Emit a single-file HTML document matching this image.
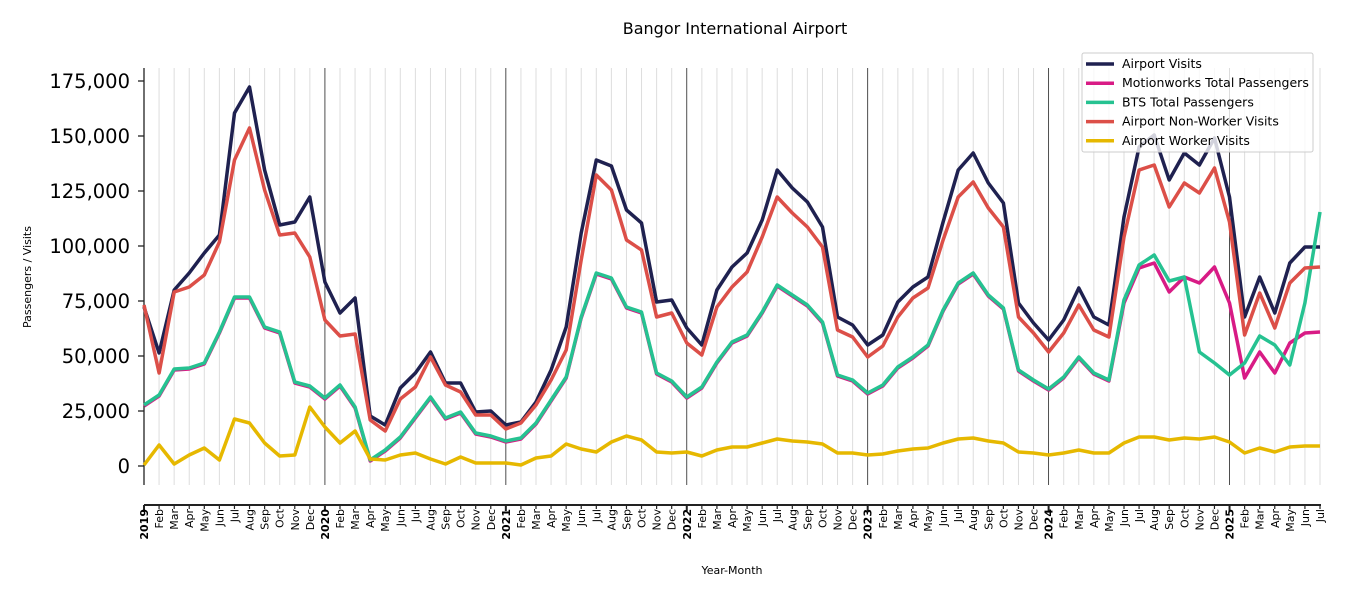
<!DOCTYPE html>
<html><head><meta charset="utf-8"><style>
html,body{margin:0;padding:0;background:#fff;}
svg{display:block;font-family:"DejaVu Sans","Liberation Sans",sans-serif;}
</style></head><body>
<svg id="s" width="1350" height="600" xmlns="http://www.w3.org/2000/svg">
<text x="735" y="34" font-size="16" text-anchor="middle">Bangor International Airport</text>
<text transform="translate(31,277) rotate(-90)" font-size="11" text-anchor="middle">Passengers / Visits</text>
<text x="732" y="574" font-size="11" text-anchor="middle">Year-Month</text>
<g id="grid"></g>
<g id="axes" stroke="#222" stroke-width="1.3" fill="none"></g>
<g id="lab"></g>
<g id="lines" fill="none" stroke-width="3.5" stroke-linejoin="round"></g>
<g id="leg"></g>
</svg>
<script>
var NS="http://www.w3.org/2000/svg";
function el(p,t,a,txt){var e=document.createElementNS(NS,t);for(var k in a)e.setAttribute(k,a[k]);if(txt!=null)e.textContent=txt;document.getElementById(p).appendChild(e);return e;}
var X0=144,DX=(1320-144)/78;
function X(i){return X0+i*DX;}
for(var i=0;i<79;i++){
  var yr=i%12==0;
  el('grid','line',{x1:X(i),x2:X(i),y1:68,y2:485,stroke:yr?'#222':'#ddd','stroke-width':yr?0.8:1});
}
el('axes','line',{x1:144,x2:144,y1:68,y2:485});
el('axes','line',{x1:144,x2:1321,y1:505,y2:505,'stroke-width':2});
var ticks=[0,25000,50000,75000,100000,125000,150000,175000];
ticks.forEach(function(v){var y=466-v/454.545;
 el('axes','line',{x1:138,x2:144,y1:y,y2:y});
 el('lab','text',{x:130,y:y+7,'font-size':19.5,'text-anchor':'end'},v.toLocaleString('en-US'));});
var M=['Jan','Feb','Mar','Apr','May','Jun','Jul','Aug','Sep','Oct','Nov','Dec'];
for(var i=0;i<79;i++){
  var yr=i%12==0;
  el('axes','line',{x1:X(i),x2:X(i),y1:505,y2:yr?511:509,'stroke-width':yr?2:1.2});
  var t=yr?String(2019+i/12):M[i%12];
  el('lab','text',{transform:'translate('+(X(i)+4)+',509) rotate(-90)','font-size':11,'text-anchor':'end','font-weight':yr?'bold':'normal'},t);
}
var nav=[307,353,290,273,253,235,113,87,170,225,222,197,282,313,298,416,425,388,373,352,383,383,412,411,425,422,402,370,327,233,160,166,210,223,302,300,328,345,290,267,253,220,170,188,202,227,317,325,345,335,302,287,277,222,170,153,183,203,303,323,340,320,288,317,325,217,147,135,180,153,165,138,197,317,277,313,263,247,247];
var red=[305,373,292,287,275,242,160,128,190,235,233,257,320,336,334,420,431,399,387,357,385,392,415,415,429,423,405,380,350,260,175,190,240,250,317,313,343,355,307,287,272,237,197,213,227,247,330,337,357,346,317,298,288,240,197,182,208,227,317,333,352,333,305,330,337,237,170,165,207,183,193,168,222,335,293,328,283,268,267];
var grn=[405,395,369,368,363,332,297,297,327,332,382,386,398,385,407,460,450,437,417,397,418,412,433,436,441,438,423,400,377,317,273,278,307,312,373,381,397,387,362,342,335,312,285,295,305,322,375,380,393,385,367,357,345,310,283,273,295,308,370,380,389,377,357,373,380,300,265,255,281,277,352,363,375,363,336,345,365,303,212];
var pnk=grn.map(function(v){return v+1;});
var pe={65:303,66:268,67:263,68:292,69:277,70:283,71:267,72:303,73:378,74:352,75:373,76:343,77:333,78:332};
for(var k in pe)pnk[k]=pe[k];
var yel=[465,445,464,455,448,460,419,423,443,456,455,407,427,443,431,459,460,455,453,459,464,457,463,463,463,465,458,456,444,449,452,442,436,440,452,453,452,456,450,447,447,443,439,441,442,444,453,453,455,454,451,449,448,443,439,438,441,443,452,453,455,453,450,453,453,443,437,437,440,438,439,437,442,453,448,452,447,446,446];
function pl(a,c){el('lines','polyline',{points:a.map(function(y,i){return X(i).toFixed(1)+','+y;}).join(' '),stroke:c});}
pl(nav,'#1f2150');pl(pnk,'#d81b85');pl(grn,'#26c291');pl(red,'#dc4f48');pl(yel,'#e6b800');
el('leg','rect',{x:1082,y:53,width:231,height:99,rx:2,fill:'#fff','fill-opacity':0.8,stroke:'#ccc'});
var L=[['Airport Visits','#1f2150'],['Motionworks Total Passengers','#d81b85'],['BTS Total Passengers','#26c291'],['Airport Non-Worker Visits','#dc4f48'],['Airport Worker Visits','#e6b800']];
L.forEach(function(l,i){var y=64+i*19.2;
 el('leg','line',{x1:1086,x2:1114,y1:y,y2:y,stroke:l[1],'stroke-width':3.5});
 el('leg','text',{x:1122,y:y+4,'font-size':12.5},l[0]);});
</script>
</body></html>
